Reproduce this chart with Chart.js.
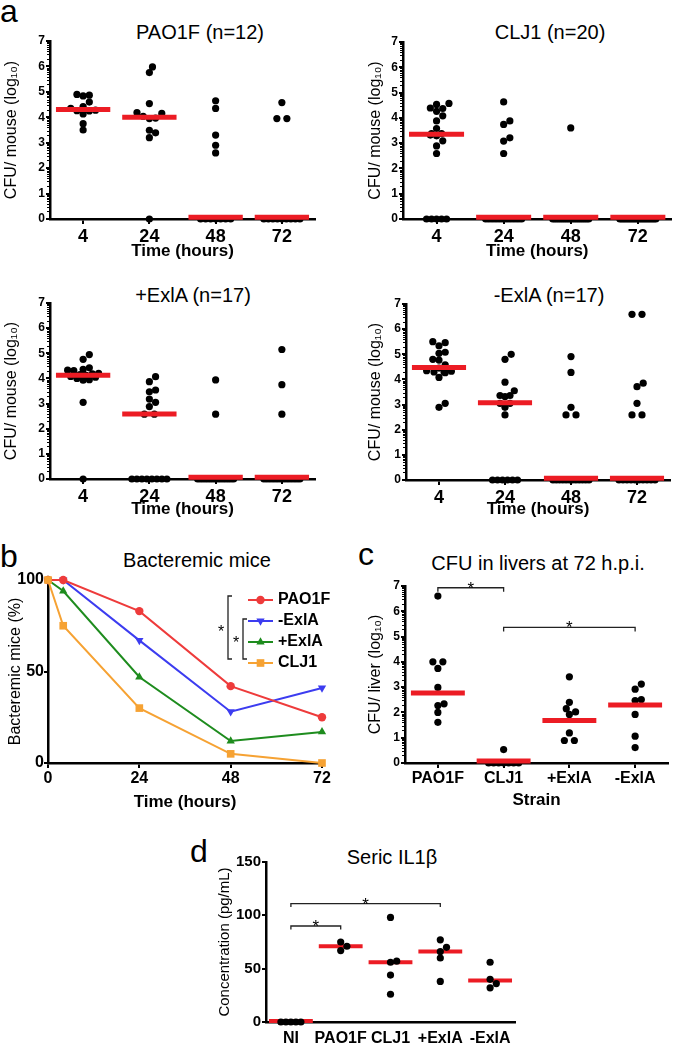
<!DOCTYPE html>
<html>
<head>
<meta charset="utf-8">
<script src="https://cdn.jsdelivr.net/npm/chart.js@4.4.1/dist/chart.umd.min.js"></script>
<style>
  body { margin: 0; background: #fff; width: 675px; height: 1046px; position: relative; overflow: hidden;
         font-family: "Liberation Sans", Arial, Helvetica, sans-serif; color: #000; }
  canvas { position: absolute; }
  .ttl { position: absolute; font-size: 20px; line-height: 20px; white-space: nowrap; transform: translateX(-50%); }
  .lab { position: absolute; font-size: 32px; line-height: 32px; }
</style>
</head>
<body>
<div class="lab" style="left:0;top:-5px">a</div>
<div class="lab" style="left:0;top:540px">b</div>
<div class="lab" style="left:358px;top:538px">c</div>
<div class="lab" style="left:190px;top:835px">d</div>
<div class="ttl" style="left:200px;top:22px">PAO1F (n=12)</div>
<div class="ttl" style="left:550px;top:22px">CLJ1 (n=20)</div>
<div class="ttl" style="left:193px;top:285px">+ExlA (n=17)</div>
<div class="ttl" style="left:549px;top:285px">-ExlA (n=17)</div>
<div class="ttl" style="left:197px;top:550px">Bacteremic mice</div>
<div class="ttl" style="left:538px;top:553px">CFU in livers at 72 h.p.i.</div>
<div class="ttl" style="left:392px;top:847px">Seric IL1β</div>
<script>
// --- data ---
const timeCats = ['4', '24', '48', '72'];
const strainCats = ['PAO1F', 'CLJ1', '+ExlA', '-ExlA'];
const il1bCats = ['NI', 'PAO1F', 'CLJ1', '+ExlA', '-ExlA'];

// panel a: CFU / mouse (log10) at 4, 24, 48, 72 h
const pao1fBlood = [
  [4.87, 4.9, 4.84, 4.6, 4.42, 4.28, 4.25, 4.13, 4.26, 4.35, 3.75, 3.5],
  [5.98, 5.76, 4.54, 4.18, 4.15, 4.04, 3.97, 3.95, 3.49, 3.39, 3.2, 0],
  [4.65, 4.35, 3.3, 2.9, 2.6, 0, 0, 0, 0, 0, 0, 0],
  [4.58, 3.95, 3.95, 0, 0, 0, 0, 0, 0, 0, 0, 0]
];
const pao1fMedian = [4.31, 4.0, 0.07, 0.07];

const clj1Blood = [
  [4.57, 4.53, 4.39, 4.37, 4.26, 4.08, 3.88, 3.58, 3.38, 3.38, 3.32, 3.29, 3.09, 2.89, 2.59, 0, 0, 0, 0, 0],
  [4.63, 3.88, 3.74, 3.21, 3.08, 2.59, 0, 0, 0, 0, 0, 0, 0, 0, 0, 0, 0, 0, 0, 0],
  [3.6, 0, 0, 0, 0, 0, 0, 0, 0, 0, 0, 0, 0, 0, 0, 0, 0, 0, 0, 0],
  [0, 0, 0, 0, 0, 0, 0, 0, 0, 0, 0, 0, 0, 0, 0, 0, 0, 0, 0, 0]
];
const clj1Median = [3.35, 0.07, 0.07, 0.07];

const plusExlaBlood = [
  [4.95, 4.76, 4.42, 4.36, 4.33, 4.31, 4.2, 4.18, 4.15, 4.12, 4.08, 4.05, 4.0, 3.95, 3.93, 3.05, 0],
  [4.07, 3.87, 3.54, 3.47, 3.18, 3.05, 2.88, 2.58, 2.58, 0, 0, 0, 0, 0, 0, 0, 0],
  [3.94, 2.58, 0, 0, 0, 0, 0, 0, 0, 0, 0, 0, 0, 0, 0, 0, 0],
  [5.15, 3.75, 2.58, 0, 0, 0, 0, 0, 0, 0, 0, 0, 0, 0, 0, 0, 0]
];
const plusExlaMedian = [4.13, 2.59, 0.07, 0.07];

const minusExlaBlood = [
  [5.5, 5.46, 5.34, 5.08, 5.04, 4.8, 4.77, 4.58, 4.45, 4.35, 4.33, 4.3, 4.3, 4.27, 4.08, 3.05, 2.89],
  [5.0, 4.8, 3.89, 3.55, 3.36, 3.36, 3.32, 3.05, 3.05, 2.89, 2.59, 0, 0, 0, 0, 0, 0],
  [4.91, 4.28, 2.89, 2.59, 2.59, 0, 0, 0, 0, 0, 0, 0, 0, 0, 0, 0, 0],
  [6.59, 6.59, 3.85, 3.71, 3.05, 2.59, 2.59, 0, 0, 0, 0, 0, 0, 0, 0, 0, 0]
];
const minusExlaMedian = [4.47, 3.07, 0.07, 0.07];

// panel b: % bacteremic mice
const hours = [0, 4, 24, 48, 72];
const pao1fBact = [100, 100, 83, 42, 25];
const minusExlaBact = [100, 100, 67, 28, 41];
const plusExlaBact = [100, 94, 47, 12, 17];
const clj1Bact = [100, 75, 30, 5, 0];

// panel c: CFU / liver (log10) at 72 h
const liverCfu = [
  [6.6, 4.0, 4.0, 3.74, 2.99, 2.34, 2.27, 2.0, 1.61],
  [0.53, 0, 0, 0, 0, 0, 0, 0],
  [3.41, 2.4, 2.15, 2.02, 1.92, 1.19, 0.89, 0.89],
  [3.12, 2.92, 2.51, 2.47, 1.92, 1.06, 0.61]
];
const liverMedian = [2.77, 0.08, 1.68, 2.29];
const liverSig = [{from: 0, to: 1, y: 6.93}, {from: 1, to: 3, y: 5.36}];

// panel d: seric IL1b (pg/mL)
const il1b = [
  [0, 0, 0, 0, 0],
  [75, 71, 67],
  [98, 57, 56, 44, 26],
  [77, 70, 66, 60, 38],
  [56, 40, 36, 32]
];
const il1bMedian = [1, 71, 56, 66, 39];
const il1bSig = [{from: 0, to: 1, y: 90}, {from: 0, to: 3, y: 111}];

// --- drawing ---
Chart.defaults.font.family = '"Liberation Sans", Arial, Helvetica, sans-serif';
Chart.defaults.color = '#000';
Chart.defaults.animation = false;

const RED = '#ec1c24';
const HIT = 6.2;   // how close two dot centres may get before one is pushed aside

function addCanvas(box) {
  const c = document.createElement('canvas');
  c.width = box.r - box.l;
  c.height = box.b - box.t;
  c.style.left = box.l + 'px';
  c.style.top = box.t + 'px';
  document.body.appendChild(c);
  return c;
}

function tickGrid(len, draw) {
  return { drawOnChartArea: false, drawTicks: draw, tickLength: len, color: '#000', lineWidth: 2 };
}

// spread dots of one column sideways (within +-halfPx) so they don't sit on each other
function swarm(chart, groups, halfPx) {
  const xs = chart.scales.x, ys = chart.scales.y;
  const perCat = xs.getPixelForValue(1) - xs.getPixelForValue(0);
  const out = [];
  groups.forEach((vals, i) => {
    const sorted = vals.slice().sort((a, b) => a - b);
    const placed = [];
    let j = 0;
    while (j < sorted.length) {
      let k = j;
      while (k < sorted.length && sorted[k] === sorted[j]) k++;
      const cnt = k - j, py = ys.getPixelForValue(sorted[j]);
      if (cnt > 1) {
        const gap = cnt <= 3 ? 10 : Math.min(5, 2 * halfPx / (cnt - 1));
        for (let q = 0; q < cnt; q++) placed.push({o: (q - (cnt - 1) / 2) * gap, py, v: sorted[j]});
      } else {
        let best = 0, bestGap = -1;
        for (let t = 0; t < 80; t++) {
          const o = (t % 2 ? 1 : -1) * Math.ceil(t / 2) * HIT / 2;
          if (Math.abs(o) > halfPx) break;
          const near = placed.reduce((m, q) => Math.min(m, Math.hypot(q.o - o, q.py - py)), Infinity);
          if (near >= HIT) { best = o; break; }
          if (near > bestGap) { bestGap = near; best = o; }
        }
        placed.push({o: best, py, v: sorted[j]});
      }
      j = k;
    }
    placed.forEach(q => out.push({x: i + q.o / perCat, y: q.v}));
  });
  return out;
}

function sigPlugin(items, leg) {
  return {
    id: 'sig',
    afterDraw(chart) {
      const {ctx, scales: {x, y}} = chart;
      ctx.save();
      ctx.strokeStyle = '#222';
      ctx.lineWidth = 1.3;
      ctx.fillStyle = '#000';
      ctx.font = '17px "Liberation Sans", Arial';
      ctx.textAlign = 'center';
      items.forEach(b => {
        const x1 = x.getPixelForValue(b.from), x2 = x.getPixelForValue(b.to), py = y.getPixelForValue(b.y);
        ctx.beginPath();
        ctx.moveTo(x1, py + leg); ctx.lineTo(x1, py); ctx.lineTo(x2, py); ctx.lineTo(x2, py + leg);
        ctx.stroke();
        ctx.fillText('*', (x1 + x2) / 2, py + 6);
      });
      ctx.restore();
    }
  };
}

const minorLogTicks = {
  id: 'minorLog',
  afterDraw(chart) {
    const {ctx, scales: {y}, chartArea} = chart;
    ctx.save();
    ctx.strokeStyle = '#000';
    ctx.lineWidth = 1;
    ctx.beginPath();
    for (let n = 0; n < y.max; n++) {
      for (let k = 2; k <= 9; k++) {
        const py = Math.round(y.getPixelForValue(n + Math.log10(k))) + 0.5;
        ctx.moveTo(chartArea.left - 3, py);
        ctx.lineTo(chartArea.left, py);
      }
    }
    ctx.stroke();
    ctx.restore();
  }
};

function dotPanel(p) {
  const canvas = addCanvas(p.box);
  const medianData = [];
  p.medians.forEach((m, i) => {
    medianData.push({x: i - p.medHalf, y: m}, {x: i + p.medHalf, y: m}, {x: i + 0.5, y: null});
  });
  const plugins = [];
  if (p.minor) plugins.push(minorLogTicks);
  if (p.sig) plugins.push(sigPlugin(p.sig, p.leg));

  const chart = new Chart(canvas, {
    type: 'scatter',
    data: {
      datasets: [
        {
          data: p.groups.flatMap((g, i) => g.map(v => ({x: i, y: v}))),
          pointRadius: 3.6, pointHoverRadius: 3.6,
          backgroundColor: '#000', pointBackgroundColor: '#000', pointBorderWidth: 0,
          clip: false, order: p.dotsOnTop ? 0 : 2
        },
        {
          data: medianData, showLine: true, spanGaps: false,
          borderColor: RED, borderWidth: p.medWidth, borderCapStyle: 'butt',
          pointRadius: 0, clip: false, order: 1
        }
      ]
    },
    options: {
      responsive: false,
      devicePixelRatio: 1,
      layout: { padding: { top: p.area.t - p.box.t, right: p.box.r - p.area.r, bottom: 0, left: 0 } },
      plugins: { legend: { display: false }, tooltip: { enabled: false } },
      scales: {
        x: {
          type: 'linear', min: -0.5, max: p.cats.length - 0.5,
          afterBuildTicks: s => { s.ticks = p.cats.map((c, i) => ({value: i})); },
          afterFit: s => { s.height = p.box.b - p.area.b; },
          ticks: {
            callback: v => p.cats[v], autoSkip: false, maxRotation: 0, minRotation: 0,
            padding: p.xPad, font: { size: p.xFont, weight: 'bold' }
          },
          grid: tickGrid(5, p.xTicks),
          border: { color: '#000', width: 2.5 },
          title: { display: !!p.xTitle, text: p.xTitle || '', font: { size: 17, weight: 'bold' }, padding: 0 }
        },
        y: {
          min: 0, max: p.yMax,
          afterFit: s => { s.width = p.area.l - p.box.l; },
          ticks: { stepSize: p.yStep, padding: 1, font: { size: p.yFont, weight: 'bold' } },
          grid: tickGrid(4, true),
          border: { color: '#000', width: 2.5 },
          title: { display: true, text: p.yTitle, font: { size: p.yTitleFont }, padding: { top: p.yTitlePad, bottom: 0 } }
        }
      }
    },
    plugins
  });
  chart.data.datasets[0].data = swarm(chart, p.groups, p.halfPx);
  chart.update('none');
  return chart;
}

const bloodPanel = {
  cats: timeCats, yMax: 7, yStep: 1, yFont: 12, xFont: 18, xPad: 2.5, xTicks: true,
  xTitle: 'Time (hours)', yTitle: 'CFU/ mouse (log₁₀)', yTitleFont: 16, yTitlePad: 2.4,
  medHalf: 0.41, medWidth: 5, halfPx: 18, minor: true, dotsOnTop: false
};

dotPanel({...bloodPanel, box: {l: 0, t: 0, r: 330, b: 262}, area: {l: 50, t: 41, r: 315, b: 219},
  groups: pao1fBlood, medians: pao1fMedian});
dotPanel({...bloodPanel, box: {l: 364, t: 0, r: 675, b: 262}, area: {l: 403, t: 42, r: 672, b: 219},
  groups: clj1Blood, medians: clj1Median});
dotPanel({...bloodPanel, box: {l: 0, t: 262, r: 330, b: 520}, area: {l: 50, t: 303, r: 315, b: 479},
  groups: plusExlaBlood, medians: plusExlaMedian});
dotPanel({...bloodPanel, box: {l: 364, t: 262, r: 675, b: 520}, area: {l: 406, t: 304, r: 670, b: 480},
  groups: minusExlaBlood, medians: minusExlaMedian});

dotPanel({
  cats: strainCats, yMax: 7, yStep: 1, yFont: 12, xFont: 16, xPad: 1.4, xTicks: true,
  xTitle: 'Strain', yTitle: 'CFU/ liver (log₁₀)', yTitleFont: 16, yTitlePad: 2.4,
  medHalf: 0.41, medWidth: 5, halfPx: 18, minor: true, dotsOnTop: false,
  box: {l: 364, t: 520, r: 675, b: 811}, area: {l: 405, t: 586, r: 668, b: 763},
  groups: liverCfu, medians: liverMedian, sig: liverSig, leg: 4
});

dotPanel({
  cats: il1bCats, yMax: 150, yStep: 50, yFont: 15, xFont: 16, xPad: 6.5, xTicks: false,
  xTitle: null, yTitle: 'Concentration (pg/mL)', yTitleFont: 15, yTitlePad: 0,
  medHalf: 0.44, medWidth: 4, halfPx: 11, minor: false, dotsOnTop: true,
  box: {l: 216, t: 800, r: 530, b: 1046}, area: {l: 266, t: 862, r: 515, b: 1022},
  groups: il1b, medians: il1bMedian, sig: il1bSig, leg: 3.5
});

// panel b: survival-style line chart with a drawn legend and brackets
const bSeries = [
  {label: 'PAO1F', values: pao1fBact, color: '#ee3b3b', style: 'circle', rot: 0, r: 4.2, order: 1},
  {label: '-ExlA', values: minusExlaBact, color: '#3c3cf0', style: 'triangle', rot: 180, r: 4.8, order: 2},
  {label: '+ExlA', values: plusExlaBact, color: '#1e8c1e', style: 'triangle', rot: 0, r: 4.8, order: 3},
  {label: 'CLJ1', values: clj1Bact, color: '#f6a233', style: 'rect', rot: 0, r: 5.4, order: 0}
];

const bLegend = {
  id: 'bLegend',
  afterDraw(chart) {
    const {ctx, chartArea: a} = chart;
    const x0 = a.right - 74, x1 = a.right - 49, tx = a.right - 44;
    const rowY = k => a.top + 20 + k * 21;
    ctx.save();
    ctx.font = 'bold 16px "Liberation Sans", Arial';
    ctx.textBaseline = 'middle';
    bSeries.forEach((s, k) => {
      const y = rowY(k);
      ctx.strokeStyle = s.color; ctx.fillStyle = s.color; ctx.lineWidth = 2;
      ctx.beginPath(); ctx.moveTo(x0, y); ctx.lineTo(x1, y); ctx.stroke();
      if (Chart.helpers && Chart.helpers.drawPoint) {
        Chart.helpers.drawPoint(ctx, {pointStyle: s.style, rotation: s.rot, radius: s.r, borderWidth: 0}, (x0 + x1) / 2, y);
      }
      ctx.fillStyle = '#000';
      ctx.fillText(s.label, tx, y);
    });
    // significance brackets
    ctx.strokeStyle = '#222'; ctx.lineWidth = 1.3; ctx.fillStyle = '#000';
    ctx.font = '16px "Liberation Sans", Arial'; ctx.textAlign = 'center'; ctx.textBaseline = 'alphabetic';
    const brackets = [{x: a.right - 94, top: rowY(0) - 4, bottom: rowY(3) - 4},
                      {x: a.right - 79, top: rowY(1) - 2, bottom: rowY(3) - 4}];
    brackets.forEach(b => {
      ctx.beginPath();
      ctx.moveTo(b.x + 4, b.top); ctx.lineTo(b.x, b.top); ctx.lineTo(b.x, b.bottom); ctx.lineTo(b.x + 4, b.bottom);
      ctx.stroke();
      ctx.fillText('*', b.x - 7, (b.top + b.bottom) / 2 + 9);
    });
    ctx.restore();
  }
};

const bBox = {l: 0, t: 520, r: 335, b: 813};
const bArea = {l: 48, t: 580, r: 322, b: 763};
new Chart(addCanvas(bBox), {
  type: 'line',
  data: {
    datasets: bSeries.map(s => ({
      label: s.label,
      data: hours.map((h, i) => ({x: h, y: s.values[i]})),
      borderColor: s.color, backgroundColor: s.color, borderWidth: 2,
      pointStyle: s.style, pointRotation: s.rot, pointRadius: s.r,
      pointBackgroundColor: s.color, pointBorderColor: s.color, pointBorderWidth: 0,
      tension: 0, clip: false, order: s.order
    }))
  },
  options: {
    responsive: false,
    devicePixelRatio: 1,
    layout: { padding: { top: bArea.t - bBox.t, right: bBox.r - bArea.r, bottom: 0, left: 0 } },
    plugins: { legend: { display: false }, tooltip: { enabled: false } },
    scales: {
      x: {
        type: 'linear', min: 0, max: 72,
        afterFit: s => { s.height = bBox.b - bArea.b; },
        ticks: { stepSize: 24, padding: 1, maxRotation: 0, font: { size: 16, weight: 'bold' } },
        grid: tickGrid(5, true),
        border: { color: '#000', width: 2.5 },
        title: { display: true, text: 'Time (hours)', font: { size: 17, weight: 'bold' }, padding: 0 }
      },
      y: {
        min: 0, max: 100,
        afterFit: s => { s.width = bArea.l - bBox.l; },
        ticks: { stepSize: 50, padding: 0, font: { size: 16, weight: 'bold' } },
        grid: tickGrid(4, true),
        border: { color: '#000', width: 2.5 },
        title: { display: true, text: 'Bacteremic mice (%)', font: { size: 16 }, padding: { top: 6.4, bottom: 0 } }
      }
    }
  },
  plugins: [bLegend]
});
</script>
</body>
</html>
